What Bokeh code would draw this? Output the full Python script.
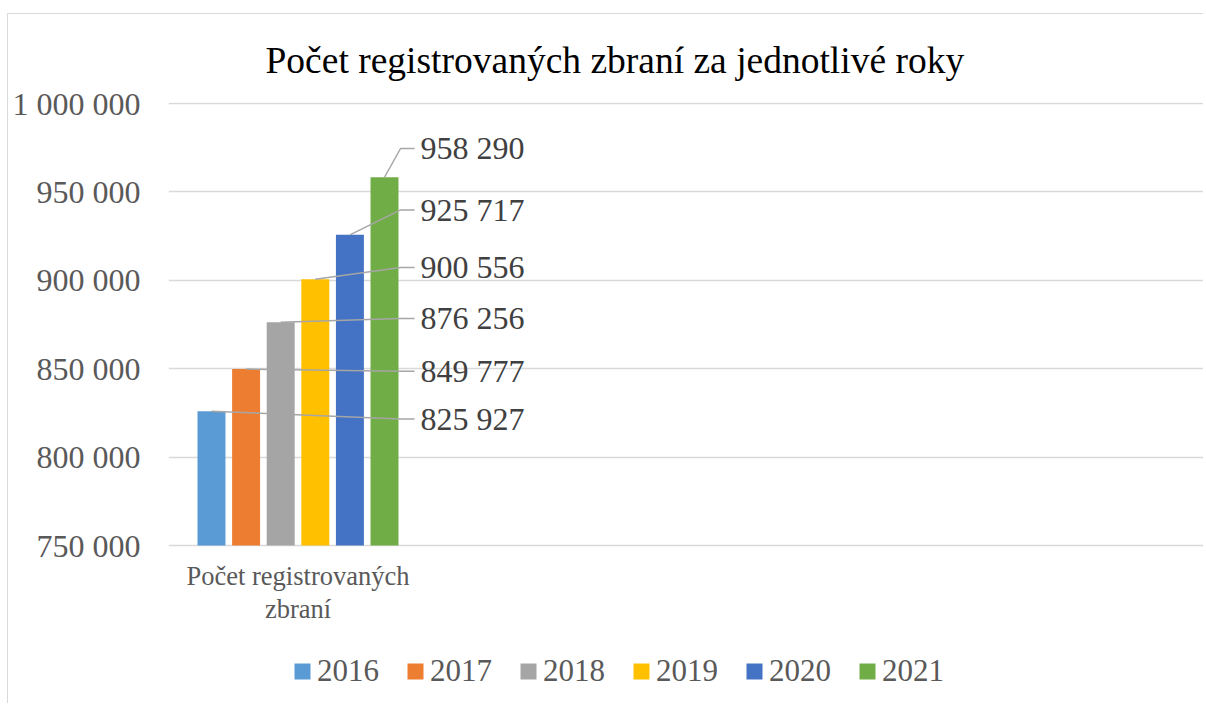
from bokeh.plotting import figure
from bokeh.models import (Range1d, FixedTicker, Legend, LegendItem, ColumnDataSource)
from bokeh.embed import file_html
from bokeh.resources import INLINE
from bokeh.core.properties import value

# ---------------- data ----------------
title_text = "Počet registrovaných zbraní za jednotlivé roky"
category_label = "Počet registrovaných\nzbraní"
years = ["2016", "2017", "2018", "2019", "2020", "2021"]
counts = [825927, 849777, 876256, 900556, 925717, 958290]
value_labels = ["825 927", "849 777", "876 256", "900 556", "925 717", "958 290"]
y_ticks = [750000, 800000, 850000, 900000, 950000, 1000000]
y_tick_labels = ["750 000", "800 000", "850 000", "900 000", "950 000", "1 000 000"]

# ---------------- styling / layout ----------------
colors = ["#5B9BD5", "#ED7D31", "#A5A5A5", "#FFC000", "#4472C4", "#70AD47"]
FONT = "Liberation Serif"
# vertical placement of the data labels (callout layout)
label_anchor_y = [821500, 848500, 878400, 907250, 939800, 974550]

cat_center = 0.5
bar_step = 0.1336
bar_width = 0.108
elbow_x = 0.896
leader_end_x = 0.950
label_x = 0.973

W, H = 1196, 690
TOP = 88
axis_min, axis_max = y_ticks[0], y_ticks[-1]
ppu = 442.0 / (axis_max - axis_min)          # pixels per value unit
y_end = axis_max + 1.0 / ppu                  # keep the top grid line inside the frame
y_start = y_end - (H - TOP) / ppu             # frame reaches down to the legend

p = figure(width=W, height=H, output_backend="svg", toolbar_location=None,
           x_range=Range1d(0, 4), y_range=Range1d(y_start, y_end),
           x_axis_location=None,
           min_border_left=160, min_border_right=0, min_border_top=TOP,
           min_border_bottom=0, background_fill_color="white",
           border_fill_color="white", outline_line_color=None)
p.styles = {"margin-left": "7px", "margin-top": "13px",
            "border-left": "1px solid #d9d9d9", "border-top": "1px solid #d9d9d9"}

# title
p.title.text = title_text
p.title.text_font = FONT
p.title.text_font_size = "37.5px"
p.title.text_font_style = "normal"
p.title.text_color = "#000000"
p.title.align = "left"
p.title.offset = 97
p.title.standoff = 43

# bars
renderers = []
for i, (yr, c, col) in enumerate(zip(years, counts, colors)):
    x = cat_center + (i - 2.5) * bar_step
    src = ColumnDataSource(dict(x=[x], top=[c]))
    r = p.vbar(x="x", top="top", bottom=axis_min, width=bar_width, source=src,
               fill_color=col, line_color=None)
    renderers.append(r)

# leader lines
xs, ys = [], []
for i, c in enumerate(counts):
    x = cat_center + (i - 2.5) * bar_step
    xs.append([x, elbow_x, leader_end_x])
    ys.append([c, label_anchor_y[i], label_anchor_y[i]])
p.multi_line(xs=xs, ys=ys, line_color="#a6a6a6", line_width=1.5)

# data labels
lab_src = ColumnDataSource(dict(x=[label_x] * len(counts), y=label_anchor_y, t=value_labels))
p.text(x="x", y="y", text="t", source=lab_src, text_font=value(FONT),
       text_font_size="32px", text_color="#404040", text_align="left",
       text_baseline="middle")

# category label under the bars
cat_src = ColumnDataSource(dict(x=[cat_center], y=[axis_min - 15 / ppu], t=[category_label]))
p.text(x="x", y="y", text="t", source=cat_src, text_font=value(FONT),
       text_font_size="26.5px", text_color="#595959", text_align="center",
       text_baseline="top", text_line_height=1.13)

# y axis
p.yaxis.ticker = FixedTicker(ticks=y_ticks)
p.yaxis.major_label_overrides = {t: l for t, l in zip(y_ticks, y_tick_labels)}
p.yaxis.axis_line_color = None
p.yaxis.major_tick_line_color = None
p.yaxis.minor_tick_line_color = None
p.yaxis.major_tick_out = 0
p.yaxis.major_tick_in = 0
p.yaxis.major_label_standoff = 28
p.yaxis.major_label_text_font = FONT
p.yaxis.major_label_text_font_size = "32px"
p.yaxis.major_label_text_color = "#595959"

p.ygrid.ticker = FixedTicker(ticks=y_ticks)
p.ygrid.grid_line_color = "#d9d9d9"
p.ygrid.grid_line_width = 1.5
p.xgrid.grid_line_color = None

# legend
legend = Legend(items=[LegendItem(label=yr, renderers=[r]) for yr, r in zip(years, renderers)],
                orientation="horizontal", location=(124, 15),
                glyph_width=20, glyph_height=20, label_height=30, label_standoff=5,
                spacing=26, padding=10, margin=0, border_line_color=None,
                background_fill_alpha=0, label_text_font=FONT,
                label_text_font_size="31px", label_text_color="#595959")
p.add_layout(legend, "center")

open("out.html", "w").write(file_html(p, INLINE))
